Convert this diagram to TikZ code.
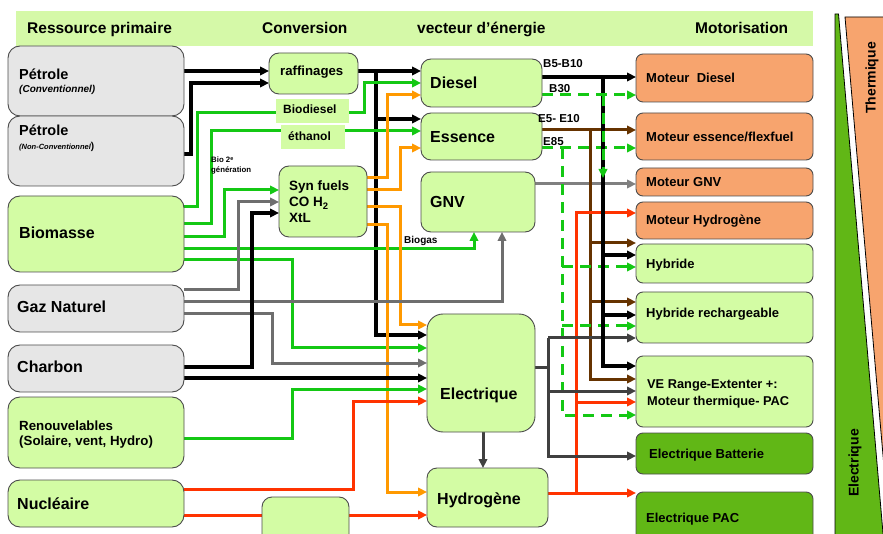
\documentclass[tikz,border=0pt]{standalone}
\usepackage{fontspec}
\setmainfont{Liberation Sans}
\usetikzlibrary{arrows.meta}
\pgfdeclarelayer{bg}
\pgfsetlayers{bg,main}
\definecolor{cLGreen}{RGB}{211,252,164}
\definecolor{cHdr}{RGB}{213,249,168}
\definecolor{cLGray}{RGB}{230,230,230}
\definecolor{cOrFill}{RGB}{247,164,110}
\definecolor{cDGreen}{RGB}{97,183,22}
\definecolor{cGreen}{RGB}{20,200,20}
\definecolor{cOrange}{RGB}{255,153,0}
\definecolor{cRed}{RGB}{255,51,0}
\definecolor{cGray}{RGB}{110,110,110}
\definecolor{cGnv}{RGB}{128,128,128}
\definecolor{cDark}{RGB}{64,64,64}
\definecolor{cBrown}{RGB}{102,51,0}
\newcommand\mybox[6]{\node[#2, minimum width={#5-#3}, minimum height={#6-#4}] (#1) at ({(#3+#5)/2},{(#4+#6)/2}) {};}
\begin{document}
\begin{tikzpicture}[x=1pt,y=-1pt,
  box/.style={draw=black!70, line width=0.9pt, inner sep=0pt, outer sep=0pt},
  gb/.style={box, fill=cLGray, rounded corners=12pt},
  lgl/.style={box, fill=cLGreen, rounded corners=12pt},
  lgv/.style={box, fill=cLGreen, rounded corners=10pt},
  lge/.style={box, fill=cLGreen, rounded corners=16pt},
  ogm/.style={box, fill=cOrFill, rounded corners=7pt},
  lgm/.style={box, fill=cLGreen, rounded corners=7pt},
  dgm/.style={box, fill=cDGreen, rounded corners=7pt},
  labbox/.style={fill=cLGreen, inner sep=0pt, outer sep=0pt},
  hdrbox/.style={fill=cHdr, inner sep=0pt, outer sep=0pt},
  txt/.style={anchor=base west, inner sep=0pt, font=\bfseries\fontsize{#1}{#1}\selectfont},
  ln/.style={line width=3pt},
  tip/.style={-{Triangle[length=9pt,width=8.5pt]}},
  dsh/.style={dash pattern=on 11pt off 7pt},
]
\useasboundingbox (0,0) rectangle (883,534);

% header band
\mybox{hdr}{hdrbox}{16}{11}{813}{46}
\node[txt=15.5] (hr1) at (27,34) {Ressource primaire};
\node[txt=15.5] (hr2) at (262,34) {Conversion};
\node[txt=15.5] (hr3) at (417,34) {vecteur d’énergie};
\node[txt=15.5] (hr4) at (695,34) {Motorisation};

% primary resources
\mybox{pc}{gb}{8}{46}{184}{116}
\mybox{pn}{gb}{8}{116}{184}{186}
\mybox{bio}{lgl}{8}{196}{184}{272}
\mybox{gaz}{gb}{8}{285}{184}{332}
\mybox{cha}{gb}{8}{345}{184}{392}
\mybox{ren}{lgl}{8}{397}{184}{468}
\mybox{nuc}{lgl}{8}{480}{184}{527}
% conversion
\mybox{raf}{lgv}{269}{53}{358}{94}
\mybox{lbd}{labbox}{276}{99}{349}{123}
\mybox{leth}{labbox}{281}{125}{345}{149}
\mybox{syn}{lgv}{279}{166}{367}{237}
\mybox{bb}{lgv}{262}{497}{349}{552}
% vectors
\mybox{die}{lgv}{421}{59}{542}{107}
\mybox{ess}{lgv}{421}{113}{542}{160}
\mybox{gnv}{lgv}{421}{172}{535}{232}
\mybox{ele}{lge}{427}{314}{535}{432}
\mybox{hyd}{lgv}{427}{468}{548}{527}
% motorisation
\mybox{mdi}{ogm}{636}{54}{813}{102}
\mybox{mes}{ogm}{636}{113}{813}{160}
\mybox{mgnv}{ogm}{636}{168}{813}{196}
\mybox{mh2}{ogm}{636}{202}{813}{239}
\mybox{hyb}{lgm}{636}{244}{813}{283}
\mybox{hyr}{lgm}{636}{292}{813}{343}
\mybox{ve}{lgm}{636}{356}{813}{427}
\mybox{eb}{dgm}{636}{433}{813}{474}
\mybox{epac}{dgm}{636}{492}{813}{552}

% texts
\node[txt=14.5] (t1) at (19,80) {Pétrole};
\node[anchor=base west, inner sep=0pt, font=\bfseries\itshape\fontsize{10}{10}\selectfont] (t1b) at (19,93) {(Conventionnel)};
\node[txt=14.5] (t2) at (19,136) {Pétrole};
\node[anchor=base west, inner sep=0pt, font=\bfseries\itshape\fontsize{7.5}{7.5}\selectfont] (t2b) at (19,150) {(Non-Conventionnel{\upshape\fontsize{10}{10}\selectfont)}};
\node[txt=16] (t3) at (19,239) {Biomasse};
\node[txt=16] (t4) at (17,313) {Gaz Naturel};
\node[txt=16] (t5) at (17,373) {Charbon};
\node[txt=13.3] (t6) at (19,430) {Renouvelables};
\node[txt=13.3] (t6b) at (19,445) {(Solaire, vent, Hydro)};
\node[txt=16] (t7) at (17,509) {Nucléaire};

\node[txt=13.2] (t8) at (280,76) {raffinages};
\node[txt=12] (t9) at (283,114) {Biodiesel};
\node[txt=12] (t10) at (288,141) {éthanol};
\node[txt=7.8] (t11) at (211,163) {Bio 2\textsuperscript{e}};
\node[txt=7.8] (t11b) at (211,173) {génération};
\node[txt=13.5] (t12) at (289,191) {Syn fuels};
\node[txt=13.5] (t13) at (289,207) {CO H\textsubscript{2}};
\node[txt=13.5] (t14) at (289,223) {XtL};

\node[txt=16] (t15) at (430,89) {Diesel};
\node[txt=16] (t16) at (430,143) {Essence};
\node[txt=16] (t17) at (430,208) {GNV};
\node[txt=16] (t18) at (440,399) {Electrique};
\node[txt=16] (t19) at (437,504) {Hydrogène};

\node[txt=11.5] (l1) at (543,68) {B5-B10};
\node[txt=11.5] (l2) at (549,93) {B30};
\node[txt=11.5] (l3) at (538,123) {E5- E10};
\node[txt=11.5] (l4) at (543,146) {E85};
\node[txt=10] (l5) at (404,244) {Biogas};

\node[txt=13] (m1) at (646,83) {Moteur\ \ Diesel};
\node[txt=13] (m2) at (646,142) {Moteur essence/flexfuel};
\node[txt=13] (m3) at (646,187) {Moteur GNV};
\node[txt=13] (m4) at (646,225) {Moteur Hydrogène};
\node[txt=13] (m5) at (646,269) {Hybride};
\node[txt=13] (m6) at (646,318) {Hybride rechargeable};
\node[txt=12.8] (m7) at (647,388) {VE Range-Extenter +:};
\node[txt=12.8] (m8) at (647,405) {Moteur thermique- PAC};
\node[txt=13] (m9) at (649,458) {Electrique Batterie};
\node[txt=13] (m10) at (646,522) {Electrique PAC};

% side panel
\draw[fill=cDGreen, draw=black, line width=0.8pt] (835,14) -- (835,545) -- (884,545) -- (838.5,14) -- cycle;
\draw[fill=cOrFill, draw=black, line width=0.8pt] (845,17) -- (886,17) -- (886,490) -- cycle;
\node[rotate=90, inner sep=0pt, font=\bfseries\fontsize{14}{14}\selectfont] (th) at (872,78) {Thermique};
\node[rotate=90, inner sep=0pt, font=\bfseries\fontsize{14}{14}\selectfont] (el) at (855,463) {Electrique};

\begin{pgfonlayer}{bg}
% petrole
\draw[ln, line width=3.5pt, tip] (pc.east |- 0,71) -- (raf.west |- 0,71);
\draw[ln, line width=3.5pt, tip] (pn.east |- 0,154) -- (191,154) -- (191,83) -- (raf.west |- 0,83);
\draw[ln, line width=3.5pt, tip] (raf.east |- 0,71) -- (die.west |- 0,71);
\draw[ln, line width=3.5pt, tip] (376,71) -- (376,335) -- (ele.west |- 0,335);
\draw[ln, line width=3.5pt, tip] (376,119) -- (ess.west |- 0,119);
% biomass
\draw[ln, cGreen, tip] (bio.east |- 0,207) -- (197,207) -- (197,113) -- (364,113) -- (364,83) -- (die.west |- 0,83);
\draw[ln, cGreen, tip] (bio.east |- 0,224) -- (211,224) -- (211,131) -- (ess.west |- 0,131);
\draw[ln, cGreen, tip] (bio.east |- 0,237) -- (224,237) -- (224,190) -- (syn.west |- 0,190);
\draw[ln, cGreen, tip] (bio.east |- 0,249) -- (474,249) -- (474,0 |- gnv.south);
\draw[ln, cGreen, tip] (bio.east |- 0,260) -- (292,260) -- (292,348) -- (ele.west |- 0,348);
% syn fuels
\draw[ln, cOrange, tip] (syn.east |- 0,178) -- (387,178) -- (387,95) -- (die.west |- 0,95);
\draw[ln, cOrange, tip] (syn.east |- 0,190) -- (400,190) -- (400,148) -- (ess.west |- 0,148);
\draw[ln, cOrange, tip] (syn.east |- 0,207) -- (400,207) -- (400,325) -- (ele.west |- 0,325);
\draw[ln, cOrange, tip] (syn.east |- 0,225) -- (387,225) -- (387,492) -- (hyd.west |- 0,492);
% gas
\draw[ln, cGray, tip] (gaz.east |- 0,290) -- (238,290) -- (238,202) -- (syn.west |- 0,202);
\draw[ln, cGray, tip] (gaz.east |- 0,302) -- (502,302) -- (502,0 |- gnv.south);
\draw[ln, cGray, tip] (gaz.east |- 0,314) -- (272,314) -- (272,363) -- (ele.west |- 0,363);
% coal
\draw[ln, line width=3.5pt, tip] (cha.east |- 0,367) -- (252,367) -- (252,213) -- (syn.west |- 0,213);
\draw[ln, line width=3.5pt, tip] (cha.east |- 0,378) -- (ele.west |- 0,378);
% renewables, nuclear
\draw[ln, cGreen, tip] (ren.east |- 0,438) -- (292,438) -- (292,389) -- (ele.west |- 0,389);
\draw[ln, cRed, tip] (nuc.east |- 0,489) -- (353,489) -- (353,401) -- (ele.west |- 0,401);
\draw[ln, cRed, tip] (nuc.east |- 0,515) -- (hyd.west |- 0,515);
% electrique -> hydrogene
\draw[ln, cDark, tip] (483,0 |- ele.south) -- (483,0 |- hyd.north);
% GNV
\draw[ln, cGnv, tip] (gnv.east |- 0,184) -- (mgnv.west |- 0,184);
% essence outputs
\draw[ln, cBrown, tip] (ess.east |- 0,130) -- (mes.west |- 0,130);
\draw[ln, cBrown, tip] (590,130) -- (590,379) -- (ve.west |- 0,379);
\draw[ln, cBrown, tip] (590,243) -- (hyb.west |- 0,243);
\draw[ln, cBrown, tip] (590,302) -- (hyr.west |- 0,302);
\draw[ln, cGreen, dsh, tip] (ess.east |- 0,148) -- (mes.west |- 0,148);
\draw[ln, cGreen, dsh, tip] (562,148) -- (562,415) -- (ve.west |- 0,415);
\draw[ln, cGreen, dsh, tip] (562,267) -- (hyb.west |- 0,267);
\draw[ln, cGreen, dsh, tip] (562,326) -- (hyr.west |- 0,326);
% hydrogene outputs
\draw[ln, cRed, tip] (hyd.east |- 0,493) -- (epac.west |- 0,493);
\draw[ln, cRed, tip] (576,493) -- (576,213) -- (mh2.west |- 0,213);
\draw[ln, cRed, tip] (576,402) -- (ve.west |- 0,402);
% electrique outputs
\draw[ln, cDark] (ele.east |- 0,367) -- (548,367);
\draw[ln, cDark, tip] (548,338) -- (hyr.west |- 0,338);
\draw[ln, cDark, tip] (548,338) -- (548,456) -- (eb.west |- 0,456);
\draw[ln, cDark, tip] (548,391) -- (ve.west |- 0,391);
% diesel outputs
\draw[ln, line width=3.5pt, tip] (die.east |- 0,77) -- (mdi.west |- 0,77);
\draw[ln, line width=3.5pt, tip] (603,77) -- (603,366) -- (ve.west |- 0,366);
\draw[ln, line width=3.5pt, tip] (603,255) -- (hyb.west |- 0,255);
\draw[ln, line width=3.5pt, tip] (603,315) -- (hyr.west |- 0,315);
\draw[ln, cGreen, dsh, tip] (die.east |- 0,95) -- (mdi.west |- 0,95);
\draw[ln, cGreen, dsh, tip] (603,95) -- (603,178);
\end{pgfonlayer}
\end{tikzpicture}
\end{document}
